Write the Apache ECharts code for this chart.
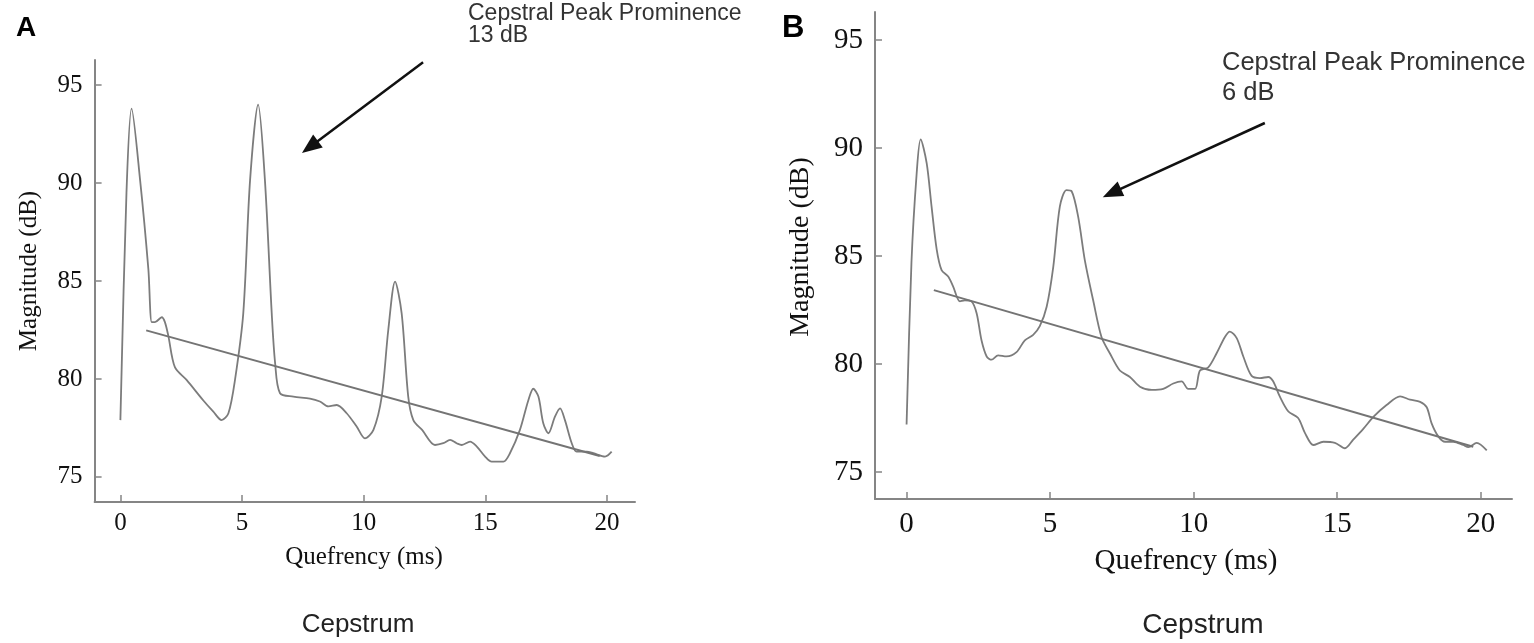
<!DOCTYPE html>
<html>
<head>
<meta charset="utf-8">
<script src="https://cdn.jsdelivr.net/npm/echarts@6/dist/echarts.min.js"></script>
<style>
  html, body { margin: 0; padding: 0; background: #fff; }
  #chart { width: 1534px; height: 643px; }
</style>
</head>
<body>
<div id="chart"></div>
<script>
// panel A: cepstrum (quefrency ms, magnitude dB)
var quefA = [0.00, 0.25, 0.46, 0.81, 1.15, 1.29, 1.42, 1.70, 1.83, 1.97, 2.24, 2.72, 3.41, 3.82, 4.16, 4.44, 4.71, 5.05, 5.33, 5.66,
    5.94, 6.22, 6.36, 6.56, 7.11, 7.79, 8.20, 8.55, 8.89, 9.30, 9.71, 10.05, 10.40, 10.74, 11.01, 11.29, 11.56, 11.83, 12.04, 12.40,
    12.93, 13.27, 13.55, 13.82, 14.03, 14.37, 14.65, 14.99, 15.26, 15.74, 16.01, 16.42, 16.77, 16.97, 17.18, 17.38, 17.59, 17.86, 18.07, 18.27,
    18.55, 18.75, 19.17, 19.44, 19.92, 20.19];
var magA = [77.9, 89.5, 93.8, 90.15, 85.6, 82.9, 82.9, 83.15, 82.9, 82.2, 80.6, 79.95, 78.9, 78.33, 77.9, 78.25, 79.95, 83.35, 90.15, 94.0,
    90.15, 83.35, 80.8, 79.27, 79.1, 79.0, 78.85, 78.6, 78.67, 78.25, 77.57, 76.97, 77.4, 79.1, 82.5, 84.97, 83.35, 79.1, 77.9, 77.4,
    76.63, 76.72, 76.89, 76.72, 76.63, 76.8, 76.55, 76.04, 75.78, 75.78, 76.21, 77.4, 78.93, 79.5, 79.1, 77.74, 77.23, 78.08, 78.5, 77.9,
    76.72, 76.29, 76.29, 76.21, 76.04, 76.29];
var trendA_q = [1.06, 19.7];
var trendA_db = [82.48, 76.07];

// panel B
var quefB = [0.00, 0.17, 0.35, 0.49, 0.70, 0.87, 1.05, 1.22, 1.45, 1.62, 1.86, 2.03, 2.26, 2.44, 2.61, 2.79, 2.96, 3.19, 3.48, 3.83,
    4.12, 4.41, 4.64, 4.88, 5.11, 5.34, 5.57, 5.75, 5.98, 6.21, 6.50, 6.79, 7.08, 7.43, 7.78, 8.13, 8.54, 8.94, 9.29, 9.58,
    9.81, 10.05, 10.22, 10.51, 10.80, 11.09, 11.26, 11.50, 11.73, 12.02, 12.31, 12.60, 12.77, 13.00, 13.30, 13.64, 13.88, 14.17, 14.52, 14.92,
    15.27, 15.56, 15.91, 16.26, 16.72, 17.19, 17.54, 17.89, 18.12, 18.29, 18.52, 18.76, 19.05, 19.39, 19.57, 19.86, 20.21];
var magB = [77.2, 84.7, 88.8, 90.4, 89.3, 87.3, 85.3, 84.35, 84.05, 83.6, 82.9, 82.95, 82.9, 82.35, 81.1, 80.35, 80.2, 80.4, 80.35, 80.55,
    81.1, 81.35, 81.75, 82.65, 84.5, 87.3, 88.05, 88.0, 86.8, 84.8, 82.95, 81.25, 80.5, 79.7, 79.4, 78.95, 78.8, 78.85, 79.1, 79.2,
    78.85, 78.85, 79.7, 79.85, 80.5, 81.25, 81.5, 81.2, 80.35, 79.45, 79.35, 79.4, 79.2, 78.5, 77.8, 77.5, 76.8, 76.25, 76.4, 76.35,
    76.1, 76.5, 77.0, 77.55, 78.1, 78.5, 78.35, 78.25, 78.0, 77.25, 76.65, 76.4, 76.4, 76.25, 76.15, 76.35, 76.0];
var trendB_q = [0.95, 19.74];
var trendB_db = [83.42, 76.17];

var xTicks = [0, 5, 10, 15, 20];
var yTicks = [75, 80, 85, 90, 95];

// arrows: [tail, head] in data units
var arrowA = [[12.44, 96.17], [7.79, 91.84]];
var arrowB = [[12.48, 91.16], [7.15, 87.92]];

function pairs(xs, ys) {
    return xs.map(function (x, i) { return [x, ys[i]]; });
}

var axisColor = '#858585';
var curveColor = '#7c7c7c';
var serif = '"Liberation Serif", "DejaVu Serif", serif';
var sans = '"Liberation Sans", Arial, sans-serif';

function xAxisCfg(idx, min, max, fs, margin) {
    return {
        type: 'value', gridIndex: idx, min: min, max: max,
        axisLine: { show: true, onZero: false, lineStyle: { color: axisColor, width: 2 } },
        axisTick: { show: true, inside: true, length: 7, customValues: xTicks, lineStyle: { color: axisColor, width: 1.5 } },
        axisLabel: { customValues: xTicks, margin: margin, color: '#111', fontFamily: serif, fontSize: fs },
        splitLine: { show: false }
    };
}
function yAxisCfg(idx, min, max, fs) {
    return {
        type: 'value', gridIndex: idx, min: min, max: max,
        axisLine: { show: true, onZero: false, lineStyle: { color: axisColor, width: 2 } },
        axisTick: { show: true, inside: true, length: 7, customValues: yTicks, lineStyle: { color: axisColor, width: 1.5 } },
        axisLabel: { customValues: yTicks, margin: 12, color: '#111', fontFamily: serif, fontSize: fs },
        splitLine: { show: false }
    };
}
function arrowLine(a) {
    return {
        silent: true,
        symbol: ['none', 'triangle'],
        symbolSize: [16, 20],
        lineStyle: { color: '#111', width: 2.5, type: 'solid' },
        itemStyle: { color: '#111' },
        label: { show: false },
        emphasis: { disabled: true },
        data: [[{ coord: a[0] }, { coord: a[1] }]]
    };
}
function txt(text, x, y, font, opts) {
    opts = opts || {};
    return {
        type: 'text', x: x, y: y, rotation: opts.rotation || 0,
        style: {
            text: text, font: font, fill: opts.fill || '#111',
            align: opts.align || 'center', verticalAlign: opts.valign || 'middle'
        }
    };
}

var chart = echarts.init(document.getElementById('chart'));
var option = {
    animation: false,
    backgroundColor: '#fff',
    grid: [
        { left: 94.6, top: 60, width: 540.4, height: 442 },
        { left: 875, top: 12, width: 637, height: 487 }
    ],
    xAxis: [xAxisCfg(0, -1.06, 21.15, 25, 9), xAxisCfg(1, -1.10, 21.09, 29, 11)],
    yAxis: [yAxisCfg(0, 73.72, 96.28, 25), yAxisCfg(1, 73.75, 96.3, 29)],
    series: [
        {
            type: 'line', xAxisIndex: 0, yAxisIndex: 0, data: pairs(quefA, magA),
            showSymbol: false, smooth: 0.3, lineStyle: { color: curveColor, width: 1.8 }
        },
        {
            type: 'line', xAxisIndex: 0, yAxisIndex: 0, data: pairs(trendA_q, trendA_db),
            showSymbol: false, lineStyle: { color: '#747474', width: 2 },
            markLine: arrowLine(arrowA)
        },
        {
            type: 'line', xAxisIndex: 1, yAxisIndex: 1, data: pairs(quefB, magB),
            showSymbol: false, smooth: 0.3, lineStyle: { color: curveColor, width: 1.8 }
        },
        {
            type: 'line', xAxisIndex: 1, yAxisIndex: 1, data: pairs(trendB_q, trendB_db),
            showSymbol: false, lineStyle: { color: '#747474', width: 2 },
            markLine: arrowLine(arrowB)
        }
    ],
    graphic: [
        txt('A', 16, 14, 'bold 28px ' + sans, { align: 'left', valign: 'top', fill: '#000' }),
        txt('B', 782, 13, 'bold 31px ' + sans, { align: 'left', valign: 'top', fill: '#000' }),
        txt('Cepstral Peak Prominence', 468, 2, '23px ' + sans, { align: 'left', valign: 'top', fill: '#333' }),
        txt('13 dB', 468, 24, '23px ' + sans, { align: 'left', valign: 'top', fill: '#333' }),
        txt('Cepstral Peak Prominence', 1222, 50, '25.5px ' + sans, { align: 'left', valign: 'top', fill: '#333' }),
        txt('6 dB', 1222, 80, '25.5px ' + sans, { align: 'left', valign: 'top', fill: '#333' }),
        txt('Quefrency (ms)', 364, 557, '25px ' + serif),
        txt('Magnitude (dB)', 29, 271, '25px ' + serif, { rotation: Math.PI / 2 }),
        txt('Quefrency (ms)', 1186, 561, '29px ' + serif),
        txt('Magnitude (dB)', 801, 247, '28px ' + serif, { rotation: Math.PI / 2 }),
        txt('Cepstrum', 358, 625, '26px ' + sans, { fill: '#222' }),
        txt('Cepstrum', 1203, 625, '28px ' + sans, { fill: '#222' })
    ]
};
chart.setOption(option);
</script>
</body>
</html>
